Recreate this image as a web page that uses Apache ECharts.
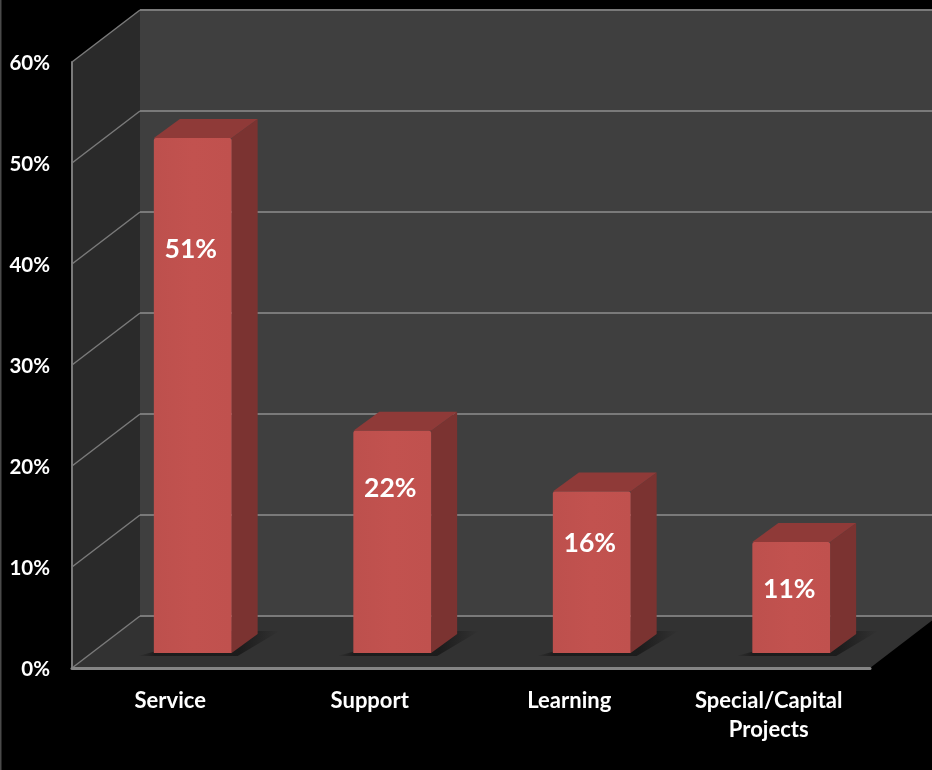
<!DOCTYPE html>
<html>
<head>
<meta charset="utf-8">
<style>
  html, body { margin: 0; padding: 0; background: #000; }
  #chart { width: 932px; height: 770px; }
</style>
<script src="https://cdn.jsdelivr.net/npm/echarts@6/dist/echarts.min.js"></script>
</head>
<body>
<div id="chart"></div>
<script>
const categories = ['Service', 'Support', 'Learning', 'Special/Capital\nProjects'];
const shares = [51, 22, 16, 11];
const yTicks = [0, 10, 20, 30, 40, 50, 60];

// Pseudo-3D box geometry, in pixels.
const ROOM_DX = 68, ROOM_DY = -52;      // depth of the walls and floor
const PLANE_DX = 21, PLANE_DY = -15;    // where the bars' front faces stand
const BOX_DX = 26, BOX_DY = -19;        // depth of each bar
const BAR_RATIO = 0.39;
const LABEL_DROP = [112, 58, 52, 48];   // value label distance below a bar's top
const LABEL_FONT = 'Lato, "Open Sans", sans-serif';

const chart = echarts.init(document.getElementById('chart'), null, { renderer: 'canvas' });

function poly(points, fill, extra) {
  return { type: 'polygon', shape: { points }, style: Object.assign({ fill }, extra || {}), silent: true };
}
function line(a, b, stroke, width) {
  return {
    type: 'line',
    shape: { x1: a[0], y1: a[1], x2: b[0], y2: b[1] },
    style: { stroke, lineWidth: width },
    silent: true
  };
}

// Back wall, side wall and floor of the room.
function renderRoom(params, api) {
  const left = api.coord([0, 60])[0] - api.size([1, 0])[0] / 2;
  const right = left + api.size([1, 0])[0] * categories.length;
  const top = api.coord([0, 60])[1];
  const base = api.coord([0, 0])[1];
  return {
    type: 'group',
    children: [
      poly([[left + ROOM_DX, top + ROOM_DY], [right + ROOM_DX, top + ROOM_DY],
            [right + ROOM_DX, base + ROOM_DY], [left + ROOM_DX, base + ROOM_DY]], '#3f3f3f'),
      poly([[left, top], [left + ROOM_DX, top + ROOM_DY],
            [left + ROOM_DX, base + ROOM_DY], [left, base]], '#2a2a2a'),
      poly([[left, base], [right, base],
            [right + ROOM_DX, base + ROOM_DY], [left + ROOM_DX, base + ROOM_DY]], '#323232')
    ]
  };
}

// One gridline: the diagonal on the side wall and the run across the back wall.
function renderGridline(params, api) {
  const tick = api.value(1);
  const band = api.size([1, 0])[0];
  const left = api.coord([0, tick])[0] - band / 2;
  const right = left + band * categories.length;
  const y = api.coord([0, tick])[1];
  const stroke = '#7a7a7a';
  return {
    type: 'group',
    children: [
      line([left, y], [left + ROOM_DX, y + ROOM_DY], stroke, 1.5),
      line([left + ROOM_DX, y + ROOM_DY], [right + ROOM_DX, y + ROOM_DY], stroke, 2)
    ]
  };
}

// One bar: floor shadow, then side, top and front faces, then its value label.
function renderBar(params, api) {
  const idx = api.value(0);
  const value = api.value(1);
  const band = api.size([1, 0])[0];
  const width = band * BAR_RATIO;
  const cx = api.coord([idx, 0])[0] + PLANE_DX;
  const x0 = cx - width / 2;
  const x1 = cx + width / 2;
  const yBase = api.coord([idx, 0])[1] + PLANE_DY;
  const yTop = api.coord([idx, value])[1] + PLANE_DY;
  const front = new echarts.graphic.LinearGradient(0, 0, 1, 0, [
    { offset: 0, color: '#bd504d' },
    { offset: 0.5, color: '#c2524f' },
    { offset: 1, color: '#c0514e' }
  ]);
  // The floor shadow fades out horizontally on both sides of the bar.
  const floorShadow = new echarts.graphic.LinearGradient(0, 0, 1, 0, [
    { offset: 0, color: 'rgba(26,26,26,0)' },
    { offset: 0.12, color: 'rgba(26,26,26,0.9)' },
    { offset: 0.72, color: 'rgba(26,26,26,0.9)' },
    { offset: 1, color: 'rgba(26,26,26,0)' }
  ]);
  return {
    type: 'group',
    children: [
      poly([[x0 - 16, yBase + 3], [x1 + 6, yBase + 3],
            [x1 + BOX_DX + 22, yBase + BOX_DY - 3], [x1, yBase + BOX_DY - 3]], floorShadow),
      poly([[x1, yTop], [x1 + BOX_DX, yTop + BOX_DY], [x1 + BOX_DX, yBase + BOX_DY], [x1, yBase]], '#7b3331'),
      poly([[x0, yTop], [x0 + BOX_DX, yTop + BOX_DY], [x1 + BOX_DX, yTop + BOX_DY], [x1, yTop]], '#8f3a38'),
      {
        type: 'rect',
        shape: { x: x0, y: yTop, width: width, height: yBase - yTop, r: [2, 2, 0, 0] },
        style: { fill: front },
        silent: true
      },
      {
        type: 'text',
        x: cx - 2,
        y: yTop + LABEL_DROP[idx],
        style: {
          text: value + '%',
          fill: '#ffffff',
          font: 'bold 26.5px ' + LABEL_FONT,
          align: 'center',
          verticalAlign: 'middle'
        },
        silent: true
      }
    ]
  };
}

chart.setOption({
  backgroundColor: '#000000',
  animation: false,
  tooltip: { show: false },
  graphic: [{
    type: 'rect',
    shape: { x: 0, y: 0, width: 1.5, height: 770 },
    style: { fill: '#4a4a4a' },
    silent: true
  }],
  grid: { left: 72, right: 62, top: 62, bottom: 102 },
  xAxis: {
    type: 'category',
    data: categories,
    z: 5,
    axisTick: { show: false },
    axisLine: { show: true, lineStyle: { color: '#858585', width: 3 } },
    axisLabel: {
      color: '#ffffff',
      fontFamily: LABEL_FONT,
      fontWeight: 'bold',
      fontSize: 22,
      lineHeight: 29,
      margin: 18,
      padding: [0, 3, 0, 0],
      interval: 0
    },
    splitLine: { show: false }
  },
  yAxis: {
    type: 'value',
    min: 0,
    max: 60,
    interval: 10,
    z: 5,
    axisTick: { show: false },
    axisLine: { show: true, lineStyle: { color: '#7a7a7a', width: 2 } },
    axisLabel: {
      color: '#ffffff',
      fontFamily: LABEL_FONT,
      fontWeight: 'bold',
      fontSize: 20.5,
      margin: 22,
      verticalAlign: 'top',
      lineHeight: 3,
      formatter: '{value}%'
    },
    splitLine: { show: false }
  },
  series: [
    {
      type: 'custom',
      name: 'room',
      z: 1,
      coordinateSystem: 'cartesian2d',
      renderItem: renderRoom,
      data: [[0, 0]]
    },
    {
      type: 'custom',
      name: 'gridlines',
      z: 2,
      coordinateSystem: 'cartesian2d',
      renderItem: renderGridline,
      data: yTicks.map(t => [0, t])
    },
    {
      type: 'custom',
      name: 'share',
      z: 6,
      coordinateSystem: 'cartesian2d',
      renderItem: renderBar,
      data: shares.map((v, i) => [i, v])
    }
  ]
});
</script>
</body>
</html>
